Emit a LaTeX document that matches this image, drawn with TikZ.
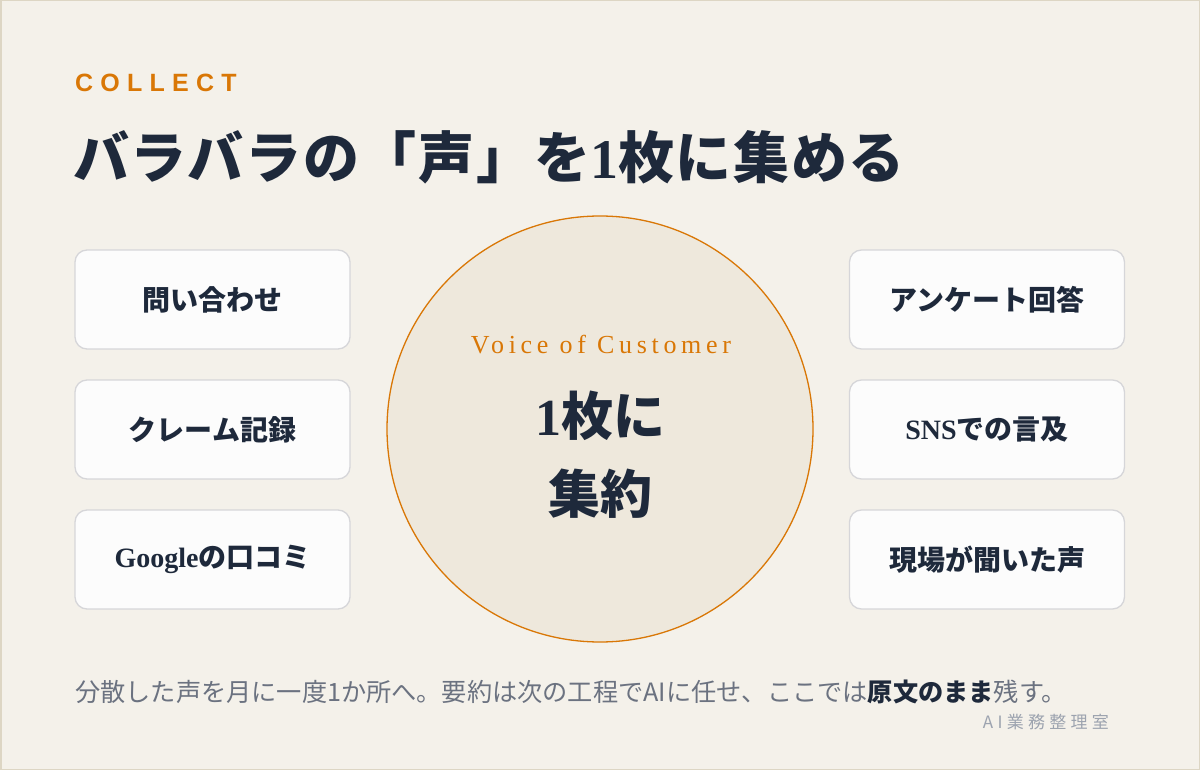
\documentclass[tikz,border=0pt]{standalone}
\usepackage{fontspec}
\setmainfont{Liberation Serif}
\newfontfamily\jp{Noto Sans CJK JP}
\newfontfamily\lsans{Liberation Sans}
\definecolor{bgc}{HTML}{F4F1EA}
\definecolor{edgec}{HTML}{DDD6C4}
\definecolor{navy}{HTML}{1E293B}
\definecolor{orangec}{HTML}{D97706}
\definecolor{boxfill}{HTML}{FCFCFC}
\definecolor{boxline}{HTML}{D6D6D9}
\definecolor{circfill}{HTML}{EEE8DC}
\definecolor{grayt}{HTML}{6B7280}
\definecolor{brandc}{HTML}{9CA3AF}
\newcommand{\fsz}[1]{\fontsize{#1}{#1}\selectfont}
\newcommand{\lat}[1]{{\rmfamily\bfseries #1}}
\begin{document}
\begin{tikzpicture}[x=1pt,y=-1pt,
  srcbox/.style={draw=boxline, line width=1.3pt, fill=boxfill, rounded corners=12pt,
    minimum width=275pt, minimum height=99pt, inner sep=0pt, text=navy,
    font=\jp\bfseries\fsz{28}},
  hub/.style={circle, draw=orangec, line width=1.3pt, fill=circfill, minimum size=426pt, inner sep=0pt}
]
\useasboundingbox (0,0) rectangle (1200,770);
\fill[bgc] (0,0) rectangle (1200,770);
\draw[edgec, line width=3pt] (0,0) rectangle (1200,770);

\node[anchor=base west, inner sep=0pt, text=orangec] (kicker) at (75,92)
  {\lsans\bfseries\fsz{25}\addfontfeatures{LetterSpace=29}COLLECT};
\node[anchor=west, inner sep=0pt, text=navy] (title) at (73,157)
  {\jp\bfseries\fsz{56}\addfontfeatures{LetterSpace=3}バラバラの「声」を\lat{1}枚に集める};

\node[hub] (hubc) at (600,429) {};
\node[text=orangec, inner sep=0pt] (voc) at (601,345)
  {\rmfamily\fsz{26}\addfontfeatures{LetterSpace=18}Voice of Customer};
\node[text=navy, inner sep=0pt] (l1) at (600,416) {\jp\bfseries\fsz{52}\lat{1}枚に};
\node[text=navy, inner sep=0pt] (l2) at (600,494) {\jp\bfseries\fsz{52}集約};

\node[srcbox] (a1) at (212.5,299.5) {問い合わせ};
\node[srcbox] (a2) at (212.5,429.5) {クレーム記録};
\node[srcbox] (a3) at (212.5,559.5) {\lat{Google}の口コミ};
\node[srcbox] (b1) at (987,299.5) {アンケート回答};
\node[srcbox] (b2) at (987,429.5) {\lat{SNS}での言及};
\node[srcbox] (b3) at (987,559.5) {現場が聞いた声};

\node[anchor=west, inner sep=0pt, text=grayt] (foot) at (75,692)
  {\jp\fsz{25.2}分散した声を月に一度1か所へ。要約は次の工程でAIに任せ、ここでは{\color{navy}\bfseries 原文のまま}残す。};
\node[anchor=east, inner sep=0pt, text=brandc] (brand) at (1109,722)
  {\jp\fsz{17}\addfontfeatures{LetterSpace=25}AI業務整理室};
\end{tikzpicture}
\end{document}
